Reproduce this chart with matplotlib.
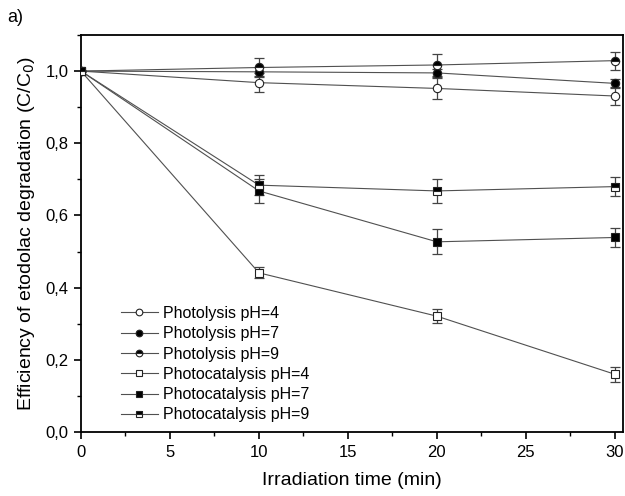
import matplotlib
matplotlib.use("Agg")
import matplotlib.pyplot as plt
from matplotlib.ticker import MultipleLocator, FuncFormatter

plt.rcParams['font.family'] = ['Liberation Sans', 'DejaVu Sans']

# irradiation time (min)
t = [0, 10, 20, 30]

# C/C0 values and error bars
photolysis_ph4 = [1.0, 0.968, 0.952, 0.931]
photolysis_ph4_err = [0, 0.027, 0.03, 0.025]
photolysis_ph7 = [1.0, 0.998, 0.995, 0.966]
photolysis_ph7_err = [0, 0.012, 0.012, 0.012]
photolysis_ph9 = [1.0, 1.01, 1.017, 1.029]
photolysis_ph9_err = [0, 0.025, 0.03, 0.025]
photocat_ph4 = [1.0, 0.441, 0.321, 0.160]
photocat_ph4_err = [0, 0.015, 0.02, 0.021]
photocat_ph7 = [1.0, 0.668, 0.527, 0.539]
photocat_ph7_err = [0, 0.033, 0.035, 0.026]
photocat_ph9 = [1.0, 0.684, 0.668, 0.680]
photocat_ph9_err = [0, 0.028, 0.034, 0.027]

labels = ['Photolysis pH=4', 'Photolysis pH=7', 'Photolysis pH=9',
          'Photocatalysis pH=4', 'Photocatalysis pH=7', 'Photocatalysis pH=9']

series = [
    (photolysis_ph4, photolysis_ph4_err, 'o', 'white', 'full'),
    (photolysis_ph7, photolysis_ph7_err, 'o', 'black', 'full'),
    (photolysis_ph9, photolysis_ph9_err, 'o', 'black', 'top'),
    (photocat_ph4, photocat_ph4_err, 's', 'white', 'full'),
    (photocat_ph7, photocat_ph7_err, 's', 'black', 'full'),
    (photocat_ph9, photocat_ph9_err, 's', 'black', 'top'),
]

fig = plt.figure(figsize=(6.25, 4.96), dpi=100)
ax = fig.add_axes([0.1296, 0.129, 0.867, 0.8004])

handles = []
for (vals, err, mk, fc, fs), lab in zip(series, labels):
    ax.errorbar(t, vals, yerr=err, fmt='none', ecolor='#444444',
                elinewidth=0.9, capsize=3.5, capthick=0.9, zorder=2)
    h, = ax.plot(t, vals, color='#505050', lw=0.8, marker=mk,
                 markersize=6, markerfacecolor=fc, markerfacecoloralt='white',
                 fillstyle=fs, markeredgecolor='#222222', markeredgewidth=0.8,
                 label=lab, zorder=3)
    handles.append(h)

ax.set_xlim(0, 30.45)
ax.set_ylim(0, 1.1)
ax.xaxis.set_major_locator(MultipleLocator(5))
ax.xaxis.set_minor_locator(MultipleLocator(2.5))
ax.yaxis.set_major_locator(MultipleLocator(0.2))
ax.yaxis.set_minor_locator(MultipleLocator(0.1))
ax.yaxis.set_major_formatter(FuncFormatter(lambda v, p: ('%.1f' % v).replace('.', ',')))
ax.tick_params(which='major', direction='out', length=5, width=1.2, labelsize=12, pad=4)
ax.tick_params(which='minor', direction='out', length=3, width=1.0)
for s in ax.spines.values():
    s.set_linewidth(1.3)

ax.set_xlabel('Irradiation time (min)', fontsize=14, labelpad=9)
ax.set_ylabel('Efficiency of etodolac degradation (C/C$_0$)', fontsize=14, labelpad=6)

ax.legend(handles=handles, loc='lower left', bbox_to_anchor=(0.047, -0.012),
          frameon=False, fontsize=11.5, handlelength=2.3, labelspacing=0.33,
          handletextpad=0.35, borderaxespad=0.5, markerscale=0.8)

fig.text(0.012, 0.955, 'a)', fontsize=13)

fig.savefig('out.png', dpi=100)
